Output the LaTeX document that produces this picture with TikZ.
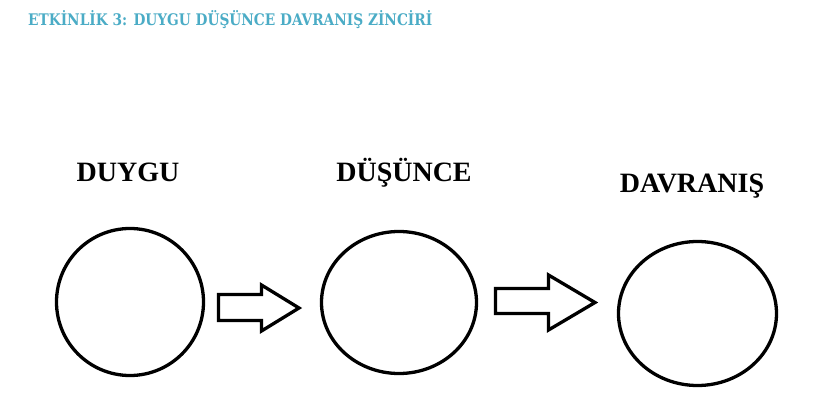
\documentclass[tikz,border=0pt]{standalone}
\usepackage{fontspec}
\setmainfont{Liberation Serif}
\newfontfamily\titlefont{DejaVu Serif}
\usetikzlibrary{shapes.geometric}
\definecolor{titleblue}{RGB}{75,172,198}
\tikzset{
  circ/.style={ellipse, draw=black, line width=3.3pt, inner sep=0pt},
  lbl/.style={font=\bfseries\fontsize{28}{30}\selectfont, anchor=base, inner sep=0pt},
  blockarrow/.style={draw=black, line width=3.3pt, line join=miter, fill=white}
}
\begin{document}
\begin{tikzpicture}[x=1pt,y=-1pt]
\useasboundingbox (0,0) rectangle (822,409);
\fill[white] (0,0) rectangle (822,409);
\node[anchor=base west, inner sep=0pt, text=titleblue] (title) at (28,26)
  {\resizebox{404pt}{15pt}{\titlefont\bfseries ETKİNLİK 3: DUYGU DÜŞÜNCE DAVRANIŞ ZİNCİRİ}};
\node[lbl] (l1) at (128,182) {DUYGU};
\node[lbl] (l2) at (404,182) {DÜŞÜNCE};
\node[lbl] (l3) at (692,193) {DAVRANIŞ};
\node[circ, minimum width=147pt, minimum height=147pt] (c1) at (130,302) {};
\node[circ, minimum width=155pt, minimum height=142pt] (c2) at (399,302.5) {};
\node[circ, minimum width=158pt, minimum height=144pt] (c3) at (697.5,313.5) {};
\draw[blockarrow] (218.5,294.5) -- (261.5,294.5) -- (261.5,285) -- (299,308) -- (261.5,331) -- (261.5,320.5) -- (218.5,320.5) -- cycle;
\draw[blockarrow] (495.5,288.5) -- (548.5,288.5) -- (548.5,275) -- (595,302.5) -- (548.5,330) -- (548.5,313.5) -- (495.5,313.5) -- cycle;
\end{tikzpicture}
\end{document}
